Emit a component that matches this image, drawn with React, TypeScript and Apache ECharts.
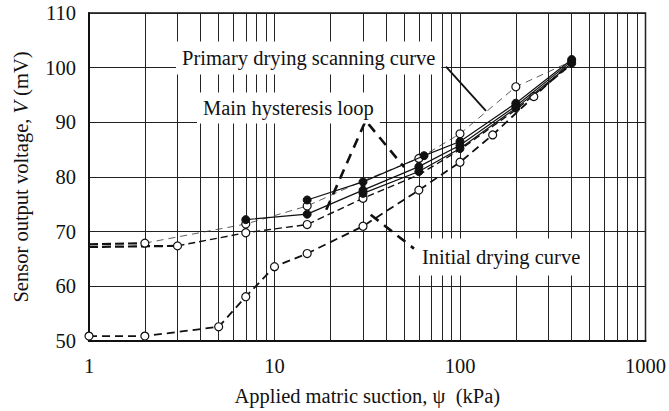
import React, { useEffect, useRef } from "react";
import * as echarts from "echarts";

const FONT = '"Liberation Serif", "Times New Roman", serif';
const FONT_SIZE = 20.5;

// Initial drying curve (open circles, heavy dashes)
const initialSuction = [1, 2, 5, 7, 10, 15, 30, 60, 100, 150, 250, 400];
const initialVoltage = [50.9, 50.9, 52.6, 58.1, 63.6, 66.0, 71.0, 77.6, 82.7, 87.7, 94.7, 101.0];
const initialMarked = [true, true, true, true, true, true, true, true, true, true, true, false];

// Main hysteresis loop, wetting branch (open circles, medium dashes)
const loopLeadSuction = [1, 3];
const loopLeadVoltage = [67.2, 67.4];
const loopSuction = [3, 7, 15, 30, 60, 100, 200, 400];
const loopVoltage = [67.4, 69.8, 71.3, 76.1, 80.4, 85.0, 92.3, 100.6];
const loopMarked = [true, true, true, true, false, false, false, false];

// Primary drying scanning curve (open circles, thin dashes)
const scanLeadSuction = [1, 2];
const scanLeadVoltage = [67.7, 67.9];
const scanSuction = [2, 7, 15, 30, 60, 100, 200, 400];
const scanVoltage = [67.9, 71.4, 74.7, 79.3, 83.4, 87.9, 96.5, 101.2];
const scanMarked = [true, true, true, false, true, true, true, false];

// Drying runs (filled circles, solid lines)
const dryASuction = [15, 30, 64, 100, 200, 400];
const dryAVoltage = [75.8, 79.1, 83.9, 86.5, 93.5, 101.5];
const dryBSuction = [7, 15, 30, 60, 100, 200, 400];
const dryBVoltage = [72.2, 73.2, 77.6, 81.9, 85.8, 93.0, 101.2];
const dryCSuction = [30, 60, 100, 200, 400];
const dryCVoltage = [77.0, 81.0, 85.2, 92.6, 100.8];

// Annotation leaders
const hysteresisLeaderSuction = [19, 31, 50];
const hysteresisLeaderVoltage = [74.0, 90.3, 81.8];
const initialLeaderSuction = [33, 56.5];
const initialLeaderVoltage = [73.1, 66.9];
const primaryLeaderSuction = [84, 138];
const primaryLeaderVoltage = [100.2, 92.1];

// Intermediate decade lines on the log axis
const minorSuction = [2, 3, 4, 5, 6, 7, 8, 9, 20, 30, 40, 50, 60, 70, 80, 90, 200, 300, 400, 500, 600, 700, 800, 900];

const pairs = (xs: number[], ys: number[], marked?: boolean[]) =>
  xs.map((x, i) =>
    marked && !marked[i] ? { value: [x, ys[i]], symbol: "none" } : { value: [x, ys[i]] }
  );

const openCircle = { color: "#fff", borderColor: "#111", borderWidth: 1.2 };
const filledCircle = { color: "#111", borderColor: "#111", borderWidth: 1 };

const curve = (name: string, data: any[], item: any, line: any, z = 4) => ({
  name,
  type: "line",
  z,
  data,
  symbol: "circle",
  symbolSize: 8,
  itemStyle: item,
  lineStyle: line,
});

const leader = (name: string, data: any[], line: any) => ({
  name,
  type: "line",
  z: 6,
  silent: true,
  symbol: "none",
  data,
  lineStyle: line,
});

const label = (text: string, x: number, y: number, padding: number[]) => ({
  type: "text",
  z: 100,
  x,
  y,
  style: {
    text,
    font: `${FONT_SIZE}px ${FONT}`,
    fill: "#111",
    align: "left",
    verticalAlign: "middle",
    backgroundColor: "#fff",
    padding,
  },
});

export default function App() {
  const ref = useRef<HTMLDivElement>(null);

  useEffect(() => {
    const chart = echarts.init(ref.current!, null, { renderer: "svg" });
    const option: any = {
      animation: false,
      backgroundColor: "#fff",
      textStyle: { fontFamily: FONT },
      grid: {
        left: 89,
        right: 23,
        top: 13,
        bottom: 67,
        show: true,
        borderColor: "#111",
        borderWidth: 1.5,
        backgroundColor: "transparent",
      },
      xAxis: {
        type: "log",
        logBase: 10,
        min: 1,
        max: 1000,
        axisLine: { show: true, lineStyle: { color: "#111", width: 2 } },
        axisTick: { show: false },
        axisLabel: {
          color: "#111",
          fontFamily: FONT,
          fontSize: FONT_SIZE,
          margin: 14,
          formatter: (v: number) => String(Math.round(v)),
        },
        splitLine: { show: true, lineStyle: { color: "#222", width: 1 } },
        name: "Applied matric suction, ψ  (kPa)",
        nameLocation: "middle",
        nameGap: 44,
        nameTextStyle: { color: "#111", fontFamily: FONT, fontSize: FONT_SIZE },
      },
      yAxis: {
        type: "value",
        min: 50,
        max: 110,
        interval: 10,
        axisLine: { show: true, lineStyle: { color: "#111", width: 2 } },
        axisTick: { show: false },
        axisLabel: {
          color: "#111",
          fontFamily: FONT,
          fontSize: FONT_SIZE,
          margin: 13,
        },
        splitLine: { show: true, lineStyle: { color: "#222", width: 1 } },
        name: "Sensor output voltage, {i|V} (mV)",
        nameLocation: "middle",
        nameGap: 58,
        nameTextStyle: {
          color: "#111",
          fontFamily: FONT,
          fontSize: FONT_SIZE,
          rich: {
            i: { fontStyle: "italic", fontFamily: FONT, fontSize: FONT_SIZE, color: "#111" },
          },
        },
      },
      series: [
        {
          name: "minor grid",
          type: "line",
          data: [],
          silent: true,
          z: 1,
          markLine: {
            silent: true,
            symbol: "none",
            z: 1,
            label: { show: false },
            lineStyle: { color: "#222", width: 1, type: "solid" },
            data: minorSuction.map((v) => ({ xAxis: v })),
          },
        },
        curve(
          "Initial drying curve",
          pairs(initialSuction, initialVoltage, initialMarked),
          openCircle,
          { color: "#111", width: 1.8, type: [8, 5] }
        ),
        curve(
          "Main hysteresis loop lead-in",
          pairs(loopLeadSuction, loopLeadVoltage, [false, false]),
          openCircle,
          { color: "#111", width: 2.2, type: [9, 4] },
          3
        ),
        curve(
          "Main hysteresis loop",
          pairs(loopSuction, loopVoltage, loopMarked),
          openCircle,
          { color: "#111", width: 1.4, type: [7, 4] }
        ),
        curve(
          "Primary drying lead-in",
          pairs(scanLeadSuction, scanLeadVoltage, [false, false]),
          openCircle,
          { color: "#111", width: 2.2, type: [9, 4] },
          3
        ),
        curve(
          "Primary drying scanning curve",
          pairs(scanSuction, scanVoltage, scanMarked),
          openCircle,
          { color: "#333", width: 0.8, type: [7, 5] }
        ),
        curve("Drying A", pairs(dryASuction, dryAVoltage), filledCircle, { color: "#111", width: 1.2 }, 5),
        curve("Drying B", pairs(dryBSuction, dryBVoltage), filledCircle, { color: "#111", width: 1.2 }, 5),
        curve("Drying C", pairs(dryCSuction, dryCVoltage), filledCircle, { color: "#111", width: 1.2 }, 5),
        leader("hysteresis leader", pairs(hysteresisLeaderSuction, hysteresisLeaderVoltage), {
          color: "#111",
          width: 2.6,
          type: [10, 7],
        }),
        leader("initial leader", pairs(initialLeaderSuction, initialLeaderVoltage), {
          color: "#111",
          width: 2.6,
          type: [10, 7],
        }),
        leader("primary leader", pairs(primaryLeaderSuction, primaryLeaderVoltage), {
          color: "#111",
          width: 1.8,
        }),
      ],
      graphic: [
        label("Primary drying scanning curve", 176, 58, [6, 6]),
        label("Main hysteresis loop", 197, 108, [5, 6]),
        label("Initial drying curve", 416, 257, [8, 6]),
      ],
    };
    chart.setOption(option);
    return () => chart.dispose();
  }, []);

  return (
    <div
      ref={ref}
      style={{ position: "absolute", left: 0, top: 0, width: 669, height: 411 }}
    />
  );
}
